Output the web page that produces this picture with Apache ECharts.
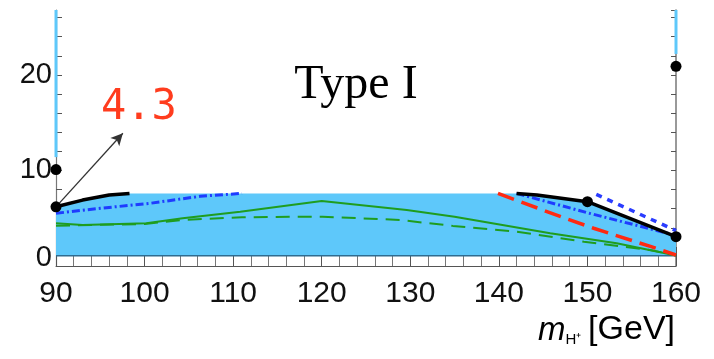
<!DOCTYPE html>
<html>
<head>
<meta charset="utf-8">
<script src="https://cdn.jsdelivr.net/npm/echarts@6/dist/echarts.min.js"></script>
<style>html,body{margin:0;padding:0;background:#fff}#c{width:714px;height:359px}</style>
</head>
<body>
<div id="c"></div>
<script>
// ---- data (m_H+ in GeV, tan beta) ----
const yLabelValues = [0, 10, 20];
const bandBottom = 1.08;
const bandMass = [90, 93, 96, 98.3, 142, 144.3, 150, 160];
const bandTop  = [6.2, 6.9, 7.43, 7.6, 7.6, 7.43, 6.73, 3.07];
const blackLeftMass = [90, 93, 96, 98.3];
const blackLeftTanb = [6.2, 6.9, 7.43, 7.6];
const blackRightMass = [142, 144.3, 150, 160];
const blackRightTanb = [7.6, 7.43, 6.73, 3.07];
const blueDashDotLeftMass = [90, 95, 100.6, 106.3, 111];
const blueDashDotLeftTanb = [5.52, 6.04, 6.56, 7.3, 7.6];
const blueDashDotRightMass = [142, 150.3, 160];
const blueDashDotRightTanb = [7.6, 5.5, 3.2];
const blueDottedMass = [151, 160];
const blueDottedTanb = [7.5, 3.7];
const redMass = [139.9, 147, 150.7, 157.2, 160];
const redTanb = [7.6, 5.16, 3.95, 2.02, 1.15];
const greenSolidMass = [90, 93, 100.2, 104.3, 110.8, 120, 129.6, 135, 145.8, 153.3, 160];
const greenSolidTanb = [4.47, 4.3, 4.47, 5.0, 5.69, 6.81, 5.86, 5.15, 3.42, 2.38, 1.1];
const greenDashedMass = [90, 100, 104.3, 111, 116.4, 120.1, 124.3, 128.8, 134.8, 142, 149.6, 157.1, 160];
const greenDashedTanb = [4.22, 4.4, 4.82, 5.1, 5.16, 5.16, 5.0, 4.82, 4.2, 3.6, 2.54, 1.68, 1.1];
const pointMass = [90, 90, 150, 160, 160];
const pointTanb = [10.1, 6.2, 6.73, 3.07, 20.9];
const leftCyanMass = [90, 90];
const leftCyanTanb = [11.4, 26.8];
const rightCyanMass = [160, 160];
const rightCyanTanb = [22.2, 26.8];
const arrowFrom = [90.2, 6.4];
const arrowTo = [97.55, 13.9];
const annotation = '4.3';
const panelTitle = 'Type I';

const zip = (a, b) => a.map((v, i) => [v, b[i]]);
const CYAN = '#5ec8fa';

const chart = echarts.init(document.getElementById('c'), null, {renderer: 'canvas'});
chart.setOption({
  animation: false,
  backgroundColor: '#fff',
  grid: {left: 56, right: 38, top: 10, bottom: 93},
  xAxis: {
    type: 'value', min: 90, max: 160, interval: 10,
    axisLine: {show: true, lineStyle: {color: '#555', width: 1}},
    axisTick: {show: true, inside: true, length: 19, lineStyle: {color: '#555', width: 1}},
    minorTick: {show: true, splitNumber: 5, length: 10, lineStyle: {color: '#777', width: 1}},
    splitLine: {show: false},
    axisLabel: {fontSize: 30, color: '#111', margin: 13, fontFamily: 'Liberation Sans'}
  },
  yAxis: [{
    type: 'value', min: 0, max: 26.8, interval: 2, position: 'left',
    axisLine: {show: true, lineStyle: {color: '#777', width: 1.2}},
    axisTick: {show: true, inside: true, length: 6, lineStyle: {color: '#555'}},
    splitLine: {show: false},
    axisLabel: {
      fontSize: 29, color: '#111', margin: 4, fontFamily: 'Liberation Sans', showMaxLabel: false,
      formatter: v => (yLabelValues.indexOf(v) < 0 ? '' : (v === 0 ? '{z|0}' : String(v))),
      rich: {z: {fontSize: 29, color: '#111', fontFamily: 'Liberation Sans', padding: [0, 0, 16, 0]}}
    }
  }, {
    type: 'value', min: 0, max: 26.8, interval: 2, position: 'right',
    axisLine: {show: true, lineStyle: {color: '#777', width: 1.5}},
    axisTick: {show: true, inside: true, length: 5, lineStyle: {color: '#555'}},
    splitLine: {show: false},
    axisLabel: {show: false}
  }],
  series: [
    {type: 'line', data: zip(bandMass, bandTop), symbol: 'none', lineStyle: {width: 0},
     areaStyle: {color: CYAN, opacity: 1, origin: bandBottom}, z: 1, clip: false},
    {type: 'line', data: [[90, bandBottom], [160, bandBottom]], symbol: 'none',
     lineStyle: {color: '#2f6c90', width: 1.5}, z: 2},
    {type: 'line', data: zip(leftCyanMass, leftCyanTanb), symbol: 'none', lineStyle: {color: CYAN, width: 3}, clip: false, z: 2},
    {type: 'line', data: zip(rightCyanMass, rightCyanTanb), symbol: 'none', lineStyle: {color: CYAN, width: 3}, clip: false, z: 2},
    {type: 'line', data: zip(greenSolidMass, greenSolidTanb), symbol: 'none', lineStyle: {color: '#1f9d1f', width: 2}, z: 3},
    {type: 'line', data: zip(greenDashedMass, greenDashedTanb), symbol: 'none', lineStyle: {color: '#1f9d1f', width: 2, type: [14, 8]}, z: 3},
    {type: 'line', data: zip(redMass, redTanb), symbol: 'none', lineStyle: {color: '#ff2a12', width: 3.5, type: [17, 8]}, z: 4},
    {type: 'line', data: zip(blueDashDotLeftMass, blueDashDotLeftTanb), symbol: 'none', lineStyle: {color: '#1e3cff', width: 3, type: [8, 3, 2, 3]}, clip: false, z: 4},
    {type: 'line', data: zip(blueDashDotRightMass, blueDashDotRightTanb), symbol: 'none', lineStyle: {color: '#1e3cff', width: 3, type: [8, 3, 2, 3]}, z: 4},
    {type: 'line', data: zip(blueDottedMass, blueDottedTanb), symbol: 'none', lineStyle: {color: '#2a3cff', width: 3.5, type: [6, 6]}, z: 4},
    {type: 'line', data: zip(blackLeftMass, blackLeftTanb), symbol: 'none', lineStyle: {color: '#000', width: 3.5}, clip: false, z: 5},
    {type: 'line', data: zip(blackRightMass, blackRightTanb), symbol: 'none', lineStyle: {color: '#000', width: 3.5}, clip: false, z: 5},
    {type: 'scatter', data: zip(pointMass, pointTanb), symbol: 'circle', symbolSize: 11,
     itemStyle: {color: '#000', opacity: 1}, clip: false, z: 6,
     markLine: {
       silent: true, symbol: ['none', 'arrow'], symbolSize: [9, 12],
       lineStyle: {color: '#333', width: 1.3, type: 'solid'},
       label: {show: false},
       data: [[{coord: arrowFrom}, {coord: arrowTo}]]
     }}
  ],
  graphic: [
    {type: 'text', x: 356, y: 85, style: {text: panelTitle, font: '48px "Liberation Serif"', fill: '#000', textAlign: 'center', textVerticalAlign: 'middle'}},
    {type: 'text', x: 101, y: 108, style: {text: annotation, font: '42px "DejaVu Sans Mono"', fill: '#ff3c1e', textAlign: 'left', textVerticalAlign: 'middle'}},
    {type: 'text', right: 39, top: 313, style: {
      text: '{i|m}{s|H⁺}  {n|[GeV]}',
      rich: {
        i: {fontSize: 33, fontStyle: 'italic', fontFamily: 'Liberation Sans', color: '#111', verticalAlign: 'bottom'},
        s: {fontSize: 15, fontFamily: 'Liberation Sans', color: '#111', verticalAlign: 'bottom'},
        n: {fontSize: 34, fontFamily: 'Liberation Sans', color: '#111', verticalAlign: 'bottom'}
      }
    }}
  ]
});
</script>
</body>
</html>
